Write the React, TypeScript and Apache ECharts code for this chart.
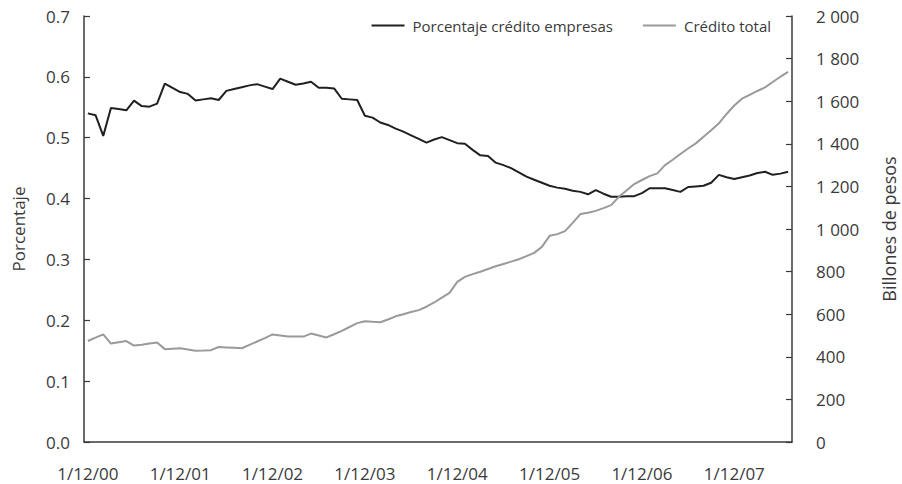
import React, { useEffect, useRef } from "react";
import * as echarts from "echarts";

const MONTHS_COUNT = 92;
const categories: string[] = Array.from({ length: MONTHS_COUNT }, (_, i) => {
  const m = ((11 + i) % 12) + 1;
  const y = Math.floor((2000 * 12 + 11 + i) / 12) % 100;
  return `1/${m}/${String(y).padStart(2, "0")}`;
});

const porcentajeEmpresas: number[] = [
  0.540, 0.537, 0.503, 0.549, 0.547, 0.545, 0.561, 0.552, 0.551, 0.556,
  0.589, 0.582, 0.575, 0.572, 0.561, 0.563, 0.565, 0.562, 0.577, 0.580,
  0.583, 0.586, 0.588, 0.584, 0.580, 0.597, 0.592, 0.587, 0.589, 0.592,
  0.582, 0.582, 0.581, 0.564, 0.563, 0.562, 0.536, 0.533, 0.525, 0.521,
  0.515, 0.510, 0.504, 0.498, 0.492, 0.497, 0.501, 0.496, 0.491, 0.490,
  0.480, 0.471, 0.470, 0.459, 0.455, 0.450, 0.443, 0.436, 0.431, 0.426,
  0.421, 0.418, 0.416, 0.413, 0.411, 0.407, 0.414, 0.408, 0.403, 0.403,
  0.404, 0.404, 0.409, 0.417, 0.417, 0.417, 0.414, 0.411, 0.419, 0.420,
  0.421, 0.426, 0.439, 0.435, 0.432, 0.435, 0.438, 0.442, 0.444, 0.439,
  0.441, 0.444,
];

const creditoTotal: number[] = [
  474, 490, 505, 462, 468, 474, 453, 457, 462, 467,
  436, 438, 440, 434, 428, 429, 431, 446, 444, 442,
  440, 456, 472, 488, 505, 500, 495, 495, 495, 509,
  500, 491, 506, 522, 540, 558, 567, 564, 562, 575,
  590, 600, 610, 619, 635, 655, 678, 700, 752, 775,
  788, 799, 812, 825, 836, 847, 858, 873, 888, 916,
  968, 976, 990, 1029, 1070, 1076, 1085, 1098, 1112, 1151,
  1181, 1211, 1230, 1248, 1261, 1300, 1325, 1352, 1378, 1402,
  1433, 1464, 1496, 1540, 1580, 1612, 1630, 1648, 1665, 1690,
  1715, 1738,
];

const seriesNames = ["Porcentaje crédito empresas", "Crédito total"];
const axisNames = ["Porcentaje", "Billones de pesos"];

const FONT = "Open Sans";
const TEXT = "#3a3a3a";
const AXIS = "#3a3a3a";

function thousands(v: number): string {
  const s = String(Math.round(v));
  return s.replace(/\B(?=(\d{3})+(?!\d))/g, " ");
}

export default function App() {
  const ref = useRef<HTMLDivElement>(null);
  useEffect(() => {
    if (!ref.current) return;
    const chart = echarts.init(ref.current, undefined, { renderer: "svg" });
    chart.setOption({
      animation: false,
      backgroundColor: "#ffffff",
      textStyle: { fontFamily: FONT },
      grid: {
        left: 84,
        right: 110,
        top: 16,
        bottom: 42,
        containLabel: false,
        outerBoundsMode: "none",
      },
      legend: {
        right: 126,
        top: 13,
        itemWidth: 33,
        itemHeight: 2,
        itemGap: 30,
        icon: "rect",
        textStyle: { fontFamily: FONT, fontSize: 15, color: TEXT, padding: [0, 0, 0, 3] },
        data: seriesNames,
      },
      xAxis: {
        type: "category",
        data: categories,
        boundaryGap: true,
        axisLine: { lineStyle: { color: AXIS, width: 1.5 } },
        axisTick: { interval: 11, length: 6, lineStyle: { color: AXIS, width: 1.2 } },
        axisLabel: {
          interval: 11,
          margin: 23,
          fontFamily: FONT,
          fontSize: 17,
          color: TEXT,
        },
        splitLine: { show: false },
      },
      yAxis: [
        {
          type: "value",
          min: 0,
          max: 0.7,
          interval: 0.1,
          position: "left",
          name: axisNames[0],
          nameLocation: "middle",
          nameRotate: 90,
          nameGap: 57,
          nameTextStyle: { fontFamily: FONT, fontSize: 17, color: TEXT },
          axisLine: { show: true, lineStyle: { color: AXIS, width: 1.5 } },
          axisTick: { show: true, inside: true, length: 6, lineStyle: { color: AXIS, width: 1.2 } },
          axisLabel: {
            margin: 14,
            fontFamily: FONT,
            fontSize: 17,
            color: TEXT,
            formatter: (v: number) => v.toFixed(1),
          },
          splitLine: { show: false },
        },
        {
          type: "value",
          min: 0,
          max: 2000,
          interval: 200,
          position: "right",
          name: axisNames[1],
          nameLocation: "middle",
          nameRotate: 90,
          nameGap: 88,
          nameTextStyle: { fontFamily: FONT, fontSize: 18, color: TEXT },
          axisLine: { show: true, lineStyle: { color: AXIS, width: 1.5 } },
          axisTick: { show: true, inside: true, length: 6, lineStyle: { color: AXIS, width: 1.2 } },
          axisLabel: {
            margin: 24,
            fontFamily: FONT,
            fontSize: 17,
            color: TEXT,
            formatter: (v: number) => thousands(v),
          },
          splitLine: { show: false },
        },
      ],
      series: [
        {
          name: seriesNames[0],
          type: "line",
          yAxisIndex: 0,
          data: porcentajeEmpresas,
          symbol: "none",
          lineStyle: { color: "#231f20", width: 2 },
          itemStyle: { color: "#231f20" },
        },
        {
          name: seriesNames[1],
          type: "line",
          yAxisIndex: 1,
          data: creditoTotal,
          symbol: "none",
          lineStyle: { color: "#9a9a9a", width: 2 },
          itemStyle: { color: "#9a9a9a" },
        },
      ],
    });
    return () => chart.dispose();
  }, []);
  return <div ref={ref} style={{ width: 902, height: 484, position: "absolute", left: 0, top: 0 }} />;
}
